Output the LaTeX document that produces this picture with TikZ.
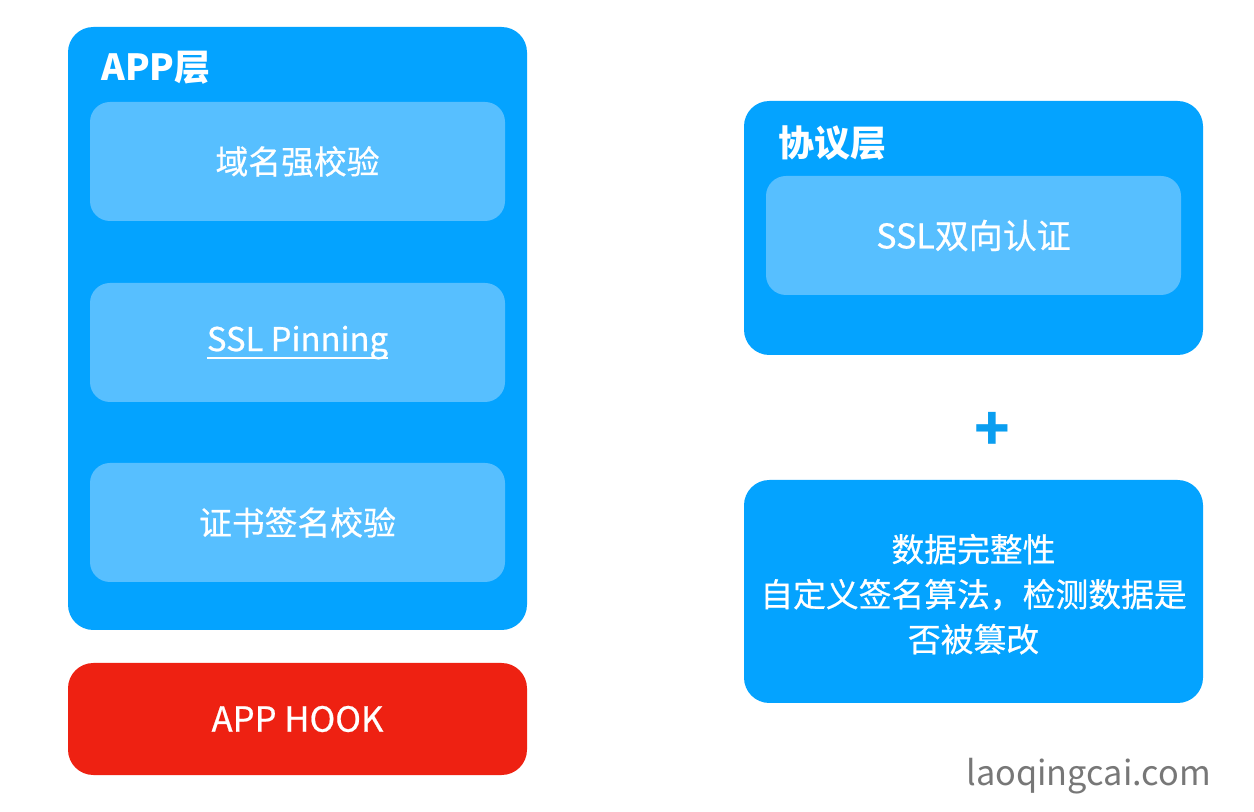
\documentclass[tikz,border=0pt]{standalone}
\usepackage{fontspec}
\setmainfont{Noto Sans CJK SC}
\newfontfamily\medfont[FakeBold=0.6]{Noto Sans CJK SC}
\definecolor{bluebox}{HTML}{04A3FF}
\definecolor{lightbox}{HTML}{57BFFF}
\definecolor{redbox}{HTML}{EE2112}
\definecolor{plusblue}{HTML}{0A9EF0}
\definecolor{graytext}{HTML}{777777}
\begin{document}
\begin{tikzpicture}[x=0.75pt,y=-0.75pt,
  outerbox/.style={fill=bluebox,draw=none,rounded corners=19pt,anchor=north west,inner sep=0pt,outer sep=0pt,minimum width=344.25pt},
  innerbox/.style={fill=lightbox,draw=none,rounded corners=15pt,anchor=north west,inner sep=0pt,outer sep=0pt,minimum width=311.25pt,minimum height=89.25pt},
  redstyle/.style={fill=redbox,draw=none,rounded corners=19pt,anchor=north west,inner sep=0pt,outer sep=0pt,minimum width=344.25pt,minimum height=84pt},
  label/.style={text=white,font=\medfont\fontsize{24.6pt}{30pt}\selectfont},
  title/.style={text=white,font=\fontsize{27pt}{30pt}\selectfont\bfseries,anchor=west,inner sep=0pt}]
\useasboundingbox (0,0) rectangle (1254,812);
% left column
\node[outerbox,minimum height=452.25pt] (app) at (68,27) {};
\node[title] (apptitle) at (101,68) {APP层};
\node[innerbox] (b1) at (90,102) {};
\node[label] (t1) at (b1.center) {域名强校验};
\node[innerbox] (b2) at (90,283) {};
\node[label] (t2) at (b2.center) {SSL Pinning};
\draw[white,line width=1.5pt] ([yshift=-5pt]t2.base west -| t2.west) ++(3.5pt,0) coordinate (ul1) -- ([xshift=-3.5pt,yshift=-5pt]t2.base east);
\node[innerbox] (b3) at (90,463) {};
\node[label] (t3) at (b3.center) {证书签名校验};
\node[redstyle] (hook) at (68,663) {};
\node[label,font=\medfont\fontsize{26pt}{30pt}\selectfont] (hooktext) at (hook.center) {APP HOOK};
% right column
\node[outerbox,minimum height=190.5pt] (proto) at (744,101) {};
\node[title] (prototitle) at (778,143) {协议层};
\node[innerbox] (ssl) at (766,176) {};
\node[label,font=\medfont\fontsize{25.5pt}{30pt}\selectfont] (ssltext) at (ssl.center) {SSL双向认证};
\node[text=plusblue,font=\fontsize{44pt}{44pt}\selectfont\bfseries,inner sep=0pt] (plus) at (992,431) {+};
\node[outerbox,minimum height=167.25pt] (data) at (744,480) {};
\node[label,align=center,font=\medfont\fontsize{24.6pt}{33.75pt}\selectfont] (datatext) at ([yshift=-2pt]data.center) {数据完整性\\自定义签名算法，检测数据是\\否被篡改};
\node[text=graytext,font=\fontsize{25.7pt}{30pt}\selectfont,anchor=east,inner sep=0pt] (site) at (1211,776) {laoqingcai.com};
\end{tikzpicture}
\end{document}
